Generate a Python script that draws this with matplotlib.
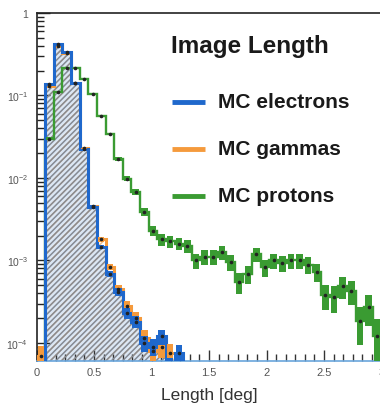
import numpy as np
import matplotlib
matplotlib.use("Agg")
import matplotlib.pyplot as plt
from matplotlib.ticker import MultipleLocator, LogLocator, FuncFormatter, NullFormatter
from matplotlib.lines import Line2D

plt.rcParams["font.family"] = ["Liberation Sans", "DejaVu Sans"]
plt.rcParams["mathtext.fontset"] = "custom"
plt.rcParams["mathtext.rm"] = "Liberation Sans"
plt.rcParams["hatch.linewidth"] = 1.1

# Binning of the image-length histograms (deg)
x_min, x_max, n_bins = 0.0, 3.0, 40

# Normalised entries per bin
electrons = [0, 0.137, 0.42, 0.337, 0.14, 0.0224, 0.0045, 0.00145, 6.9e-4, 4.2e-4,
             2.3e-4, 1.8e-4, 1.0e-4, 9e-5, 1.2e-4, 5e-5, 7.5e-5, 0, 0, 0,
             0, 0, 0, 0, 0, 0, 0, 0, 0, 0,
             0, 0, 0, 0, 0, 0, 0, 0, 0, 0]
gammas = [7e-5, 0.13, 0.40, 0.33, 0.14, 0.023, 0.0046, 0.0018, 8.3e-4, 4.5e-4,
          2.8e-4, 2.0e-4, 1.15e-4, 8e-5, 9e-5, 7.5e-5, 5e-5, 0, 0, 0,
          0, 0, 0, 0, 0, 0, 0, 0, 0, 0,
          0, 0, 0, 0, 0, 0, 0, 0, 0, 0]
protons = [0, 0.03, 0.11, 0.215, 0.215, 0.158, 0.104, 0.056, 0.034, 0.017,
           0.0098, 0.0068, 0.0039, 0.0023, 0.0018, 0.0017, 0.0016, 0.0015, 1.0e-3, 1.1e-3,
           1.1e-3, 1.26e-3, 9.5e-4, 5.5e-4, 6.9e-4, 1.2e-3, 8.3e-4, 1.0e-3, 9.3e-4, 1.0e-3,
           1.0e-3, 8.9e-4, 7.3e-4, 3.8e-4, 3.6e-4, 4.9e-4, 4.3e-4, 1.85e-4, 2.7e-4, 1.2e-4]

# Simulated events per sample (sets the Poisson error boxes)
n_events = {"electrons": 2.0e5, "gammas": 1.6e5, "protons": 2.2e4}

x_ticks = [0, 0.5, 1, 1.5, 2, 2.5, 3]
x_tick_labels = ["0", "0.5", "1", "1.5", "2", "2.5", "3"]

BLUE = "#1f68cc"
ORANGE = "#f59a3c"
GREEN = "#3a9b32"

edges = np.linspace(x_min, x_max, n_bins + 1)
centers = 0.5 * (edges[:-1] + edges[1:])
bw = edges[1] - edges[0]

W, H = 380, 406
fig = plt.figure(figsize=(W / 100, H / 100), dpi=100)
ax = fig.add_axes([36.5 / W, 1 - 362 / H, 345 / W, (362 - 14) / H])
ax.set_yscale("log")
ax.set_xlim(x_min, x_max)
ax.set_ylim(6.05e-5, 1.0)


def masked(vals):
    v = np.asarray(vals, dtype=float)
    return np.where(v > 0, v, 1e-9)


def error_boxes(vals, n_ev, color):
    v = np.asarray(vals, dtype=float)
    sel = v > 0
    err = np.sqrt(v[sel] / n_ev)
    lo = np.maximum(v[sel] - err, 1e-9)
    ax.bar(centers[sel], v[sel] + err - lo, bottom=lo, width=0.75 * bw,
           color=color, linewidth=0, zorder=4)
    ax.plot(centers[sel], v[sel], "o", ms=1.6, color="#222222", zorder=6)


e_vals = masked(electrons)
g_vals = masked(gammas)
p_vals = masked(protons)

# hatched fills of the electron and gamma distributions
ax.stairs(e_vals, edges, baseline=1e-9, fill=True, facecolor="#dbe7f5",
          edgecolor="none", linewidth=0, zorder=1)
ax.stairs(g_vals, edges, baseline=1e-9, fill=True, facecolor="none",
          edgecolor="#f3c08a", hatch="///", linewidth=0, zorder=1.5)
ax.stairs(e_vals, edges, baseline=1e-9, fill=True, facecolor="none",
          edgecolor="#858a93", hatch="//////", linewidth=0, zorder=2)

# protons
ax.stairs(p_vals, edges, baseline=None, color=GREEN, linewidth=1.7, zorder=3)
error_boxes(protons, n_events["protons"], GREEN)

# gammas then electrons outlines
ax.stairs(g_vals, edges, baseline=1e-9, color=ORANGE, linewidth=2.2, zorder=3.5)
error_boxes(gammas, n_events["gammas"], ORANGE)
ax.stairs(e_vals, edges, baseline=1e-9, color=BLUE, linewidth=2.2, zorder=3.6)
error_boxes(electrons, n_events["electrons"], BLUE)

# axes styling
for s in ["left", "top"]:
    ax.spines[s].set_color("#222222")
    ax.spines[s].set_linewidth(1.2)
ax.spines["right"].set_visible(False)
ax.spines["bottom"].set_color("#6aa6dc")
ax.spines["bottom"].set_linewidth(1.2)

ax.set_xticks(x_ticks)
ax.set_xticklabels(x_tick_labels)
ax.xaxis.set_minor_locator(MultipleLocator(0.5 / 6))
ax.tick_params(axis="x", which="major", direction="in", length=8, width=1.0,
               color="#333333", labelsize=8, labelcolor="#555555", pad=4,
               top=False)
ax.tick_params(axis="x", which="minor", direction="in", length=5, width=1.0,
               color="#333333", top=False)

ax.yaxis.set_major_locator(LogLocator(base=10, numticks=10))
ax.yaxis.set_minor_locator(LogLocator(base=10, subs=np.arange(2, 10), numticks=20))
ax.yaxis.set_minor_formatter(NullFormatter())


def ylab(v, pos):
    e = int(round(np.log10(v)))
    if e == 0:
        return "1"
    return r"$10^{%d}$" % e


ax.yaxis.set_major_formatter(FuncFormatter(ylab))
ax.tick_params(axis="y", which="major", direction="in", length=9, width=1.0,
               color="#222222", labelsize=7.5, labelcolor="#555555", pad=6,
               right=False)
ax.tick_params(axis="y", which="minor", direction="in", length=5, width=1.0,
               color="#222222", right=False)

ax.set_xlabel("Length [deg]", fontsize=12.5, color="#333333")
ax.xaxis.set_label_coords(0.5, -0.075)

# legend block
def fx(px):
    return px / W


def fy(py):
    return 1 - py / H


fig.text(fx(250), fy(47), "Image Length", fontsize=17.5, fontweight="bold",
         ha="center", va="center", color="#1a1a1a")
for y_px, col, label in [(103, BLUE, "MC electrons"), (150, ORANGE, "MC gammas"),
                         (197, GREEN, "MC protons")]:
    fig.add_artist(Line2D([fx(172), fx(205)], [fy(y_px), fy(y_px)], color=col,
                          linewidth=3.5, solid_capstyle="butt"))
    fig.text(fx(218), fy(y_px), label, fontsize=15, fontweight="bold",
             ha="left", va="center", color="#1a1a1a")

fig.savefig("out.png", dpi=100)
